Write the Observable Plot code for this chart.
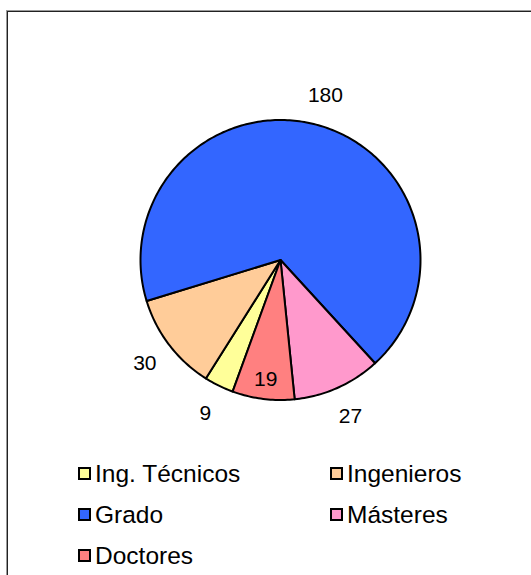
<!DOCTYPE html>
<html>
<head>
<meta charset="utf-8">
<script src="https://cdn.jsdelivr.net/npm/d3@7"></script>
<script src="https://cdn.jsdelivr.net/npm/@observablehq/plot@0.6"></script>
<style>
  body { margin: 0; background: #fff; font-family: "Liberation Sans", Arial, sans-serif; }
  #wrap { position: relative; width: 531px; height: 575px; overflow: hidden; background: #fff; }
  #chart { position: absolute; left: 0; top: 0; }
  .frame { position: absolute; width: 700px; height: 800px; pointer-events: none; }
  #frame1 { left: 6px; top: 10px; border-left: 1px solid #9a9a9a; border-top: 1px solid #9a9a9a; }
  #frame2 { left: 7px; top: 11px; border-left: 1px solid #222; border-top: 1px solid #222; }
  #legend { position: absolute; left: 78px; top: 453px; display: grid; grid-template-columns: 252px 190px; grid-auto-rows: 41px; }
  .item { display: flex; align-items: center; font-size: 24.5px; color: #000; line-height: 41px; white-space: nowrap; }
  .sw { width: 9px; height: 9px; border: 2px solid #000; margin-right: 4px; flex: none; }
</style>
</head>
<body>
<div id="wrap">
  <div id="chart"></div>
  <div id="legend"></div>
  <div class="frame" id="frame1"></div>
  <div class="frame" id="frame2"></div>
</div>
<script>
const categories = ["Ing. Técnicos", "Ingenieros", "Grado", "Másteres", "Doctores"];
const values = [9, 30, 180, 27, 19];
const colors = ["#FFFF99", "#FFCC99", "#3366FF", "#FF99CC", "#FF8080"];
const labelPlacement = ["outside", "outside", "outside", "outside", "inside"];
const startDeg = 200;

const data = categories.map((c, i) => ({category: c, value: values[i], placement: labelPlacement[i]}));
const arcs = d3.pie().value(d => d.value).sort(null)
  .startAngle(startDeg * Math.PI / 180)
  .endAngle((startDeg + 360) * Math.PI / 180)(data);

const outline = arcs.flatMap(a => {
  const n = Math.max(2, Math.ceil((a.endAngle - a.startAngle) / (Math.PI / 180)));
  const pts = [{category: a.data.category, x: 0, y: 0}];
  for (let k = 0; k <= n; k++) {
    const t = a.startAngle + (a.endAngle - a.startAngle) * k / n;
    pts.push({category: a.data.category, x: Math.sin(t), y: Math.cos(t)});
  }
  return pts;
});

const labels = arcs.map(a => {
  const m = (a.startAngle + a.endAngle) / 2;
  const r = a.data.placement === "inside" ? 0.86 : 1.22;
  return {text: String(a.data.value), x: r * Math.sin(m), y: r * Math.cos(m)};
});

const chart = Plot.plot({
  width: 531,
  height: 445,
  margin: 0,
  style: {background: "transparent", fontFamily: "'Liberation Sans', Arial, sans-serif"},
  x: {domain: [-1, 1], range: [140, 420], axis: null},
  y: {domain: [-1, 1], range: [399.5, 119.5], axis: null},
  color: {domain: categories, range: colors},
  marks: [
    Plot.line(outline, {x: "x", y: "y", z: "category", fill: "category", stroke: "#000", strokeWidth: 2, strokeLinejoin: "round", curve: "linear-closed"}),
    Plot.text(labels, {x: "x", y: "y", text: "text", fontSize: 21, fill: "#000"})
  ]
});
document.getElementById("chart").appendChild(chart);

const legend = document.getElementById("legend");
categories.forEach((c, i) => {
  const item = document.createElement("div");
  item.className = "item";
  const sw = document.createElement("span");
  sw.className = "sw";
  sw.style.background = colors[i];
  const tx = document.createElement("span");
  tx.textContent = c;
  item.appendChild(sw);
  item.appendChild(tx);
  legend.appendChild(item);
});
</script>
</body>
</html>
